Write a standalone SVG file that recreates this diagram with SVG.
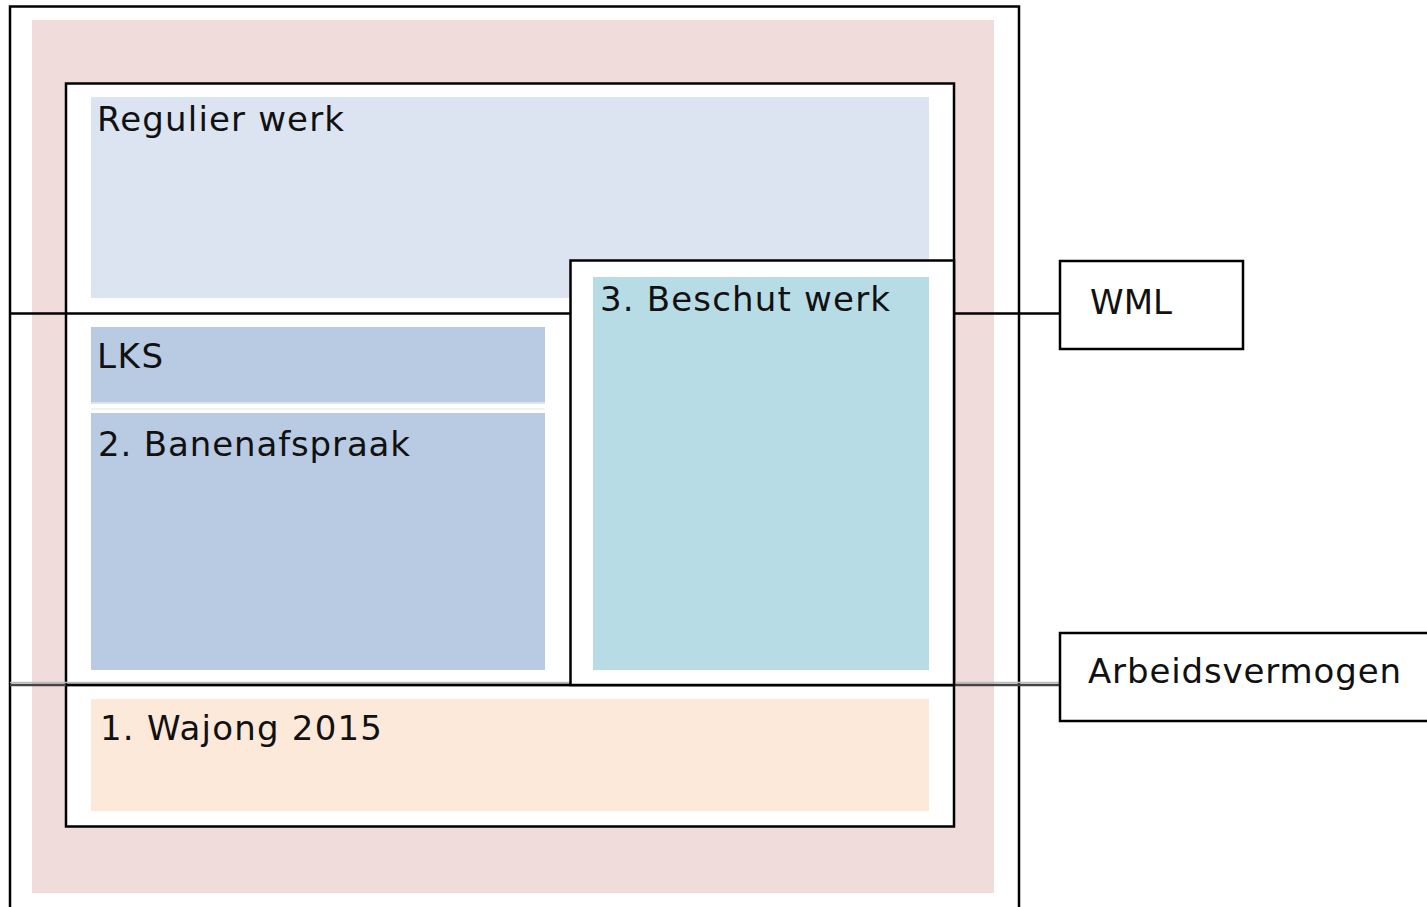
<svg xmlns="http://www.w3.org/2000/svg" width="1427" height="907" viewBox="0 0 1427 907">
<style>
.frame{fill:none;stroke:#000;stroke-width:2.5}
.box{fill:#fff;stroke:#000;stroke-width:2.5}
.lbl{font-family:"DejaVu Sans","Verdana",sans-serif;font-size:34px;fill:#111}
.ln{stroke:#000;stroke-width:2.5;fill:none}
</style>
<rect width="1427" height="907" fill="#fff"/>
<g id="outer">
<path class="frame" d="M10 907 V6.5 H1019 V907"/>
<rect x="32" y="20" width="962" height="873" fill="#F0DCDB"/>
</g>
<g id="inner">
<rect class="box" x="66" y="83.5" width="888" height="743"/>
</g>
<g id="connectors">
<line class="ln" x1="10" y1="313.5" x2="570" y2="313.5"/>
<line class="ln" x1="954" y1="313.5" x2="1060" y2="313.5"/>
<line x1="10" y1="682.5" x2="1060" y2="682.5" stroke="#bbb" stroke-width="1.5"/>
<line x1="10" y1="685" x2="1060" y2="685" stroke="#444" stroke-width="2.5"/>
<line class="ln" x1="66" y1="685" x2="954" y2="685"/>
</g>
<g id="regulier">
<rect x="91" y="97" width="838" height="201" fill="#DBE4F0"/>
<text class="lbl" x="97" y="131" textLength="247" lengthAdjust="spacing">Regulier werk</text>
</g>
<g id="beschut">
<rect class="box" x="570.5" y="260.5" width="383.5" height="424.5"/>
<rect x="593" y="277" width="336" height="393" fill="#B7DCE6"/>
<text class="lbl" x="600" y="311" textLength="290" lengthAdjust="spacing">3. Beschut werk</text>
</g>
<g id="lks">
<rect x="91" y="327" width="454" height="75" fill="#B8CBE3"/>
<rect x="91" y="402" width="454" height="2" fill="#DDE6F0"/>
<text class="lbl" x="97" y="368" textLength="66" lengthAdjust="spacing">LKS</text>
</g>
<g id="banenafspraak">
<rect x="91" y="408" width="454" height="2" fill="#EEF2F7"/>
<rect x="91" y="413" width="454" height="257" fill="#B8CBE3"/>
<text class="lbl" x="98" y="456" textLength="312" lengthAdjust="spacing">2. Banenafspraak</text>
</g>
<g id="wajong">
<rect x="91" y="699" width="838" height="112" fill="#FCE9DA"/>
<text class="lbl" x="100" y="740" textLength="282" lengthAdjust="spacing">1. Wajong 2015</text>
</g>
<g id="wml">
<rect class="box" x="1060" y="261" width="183" height="88"/>
<text class="lbl" x="1090" y="314" textLength="82" lengthAdjust="spacing">WML</text>
</g>
<g id="arbeidsvermogen">
<rect class="box" x="1060" y="633" width="380" height="88"/>
<text class="lbl" x="1088" y="683" textLength="313" lengthAdjust="spacing">Arbeidsvermogen</text>
</g>
</svg>
